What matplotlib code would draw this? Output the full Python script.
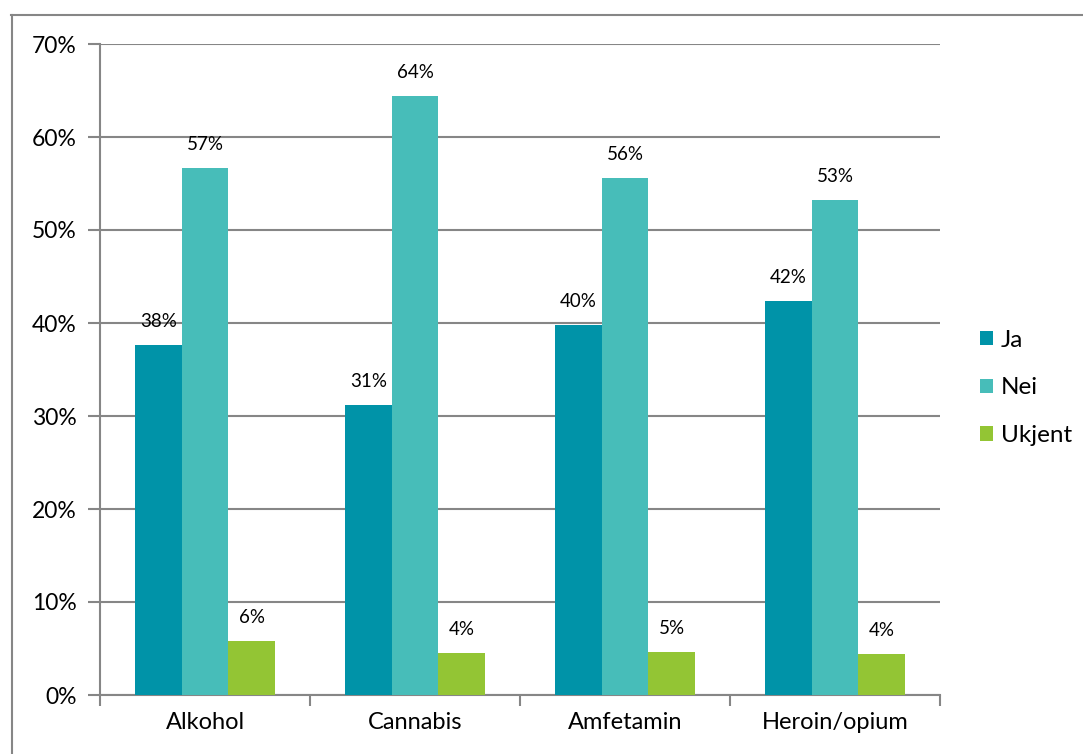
import matplotlib
matplotlib.use("Agg")
import matplotlib.pyplot as plt
from matplotlib.lines import Line2D
from matplotlib.patches import Patch
import numpy as np

plt.rcParams['font.family'] = ['Lato', 'DejaVu Sans']

categories = ["Alkohol", "Cannabis", "Amfetamin", "Heroin/opium"]
series_names = ["Ja", "Nei", "Ukjent"]
ja = [37.6, 31.2, 39.8, 42.4]
nei = [56.7, 64.4, 55.6, 53.2]
ukjent = [5.8, 4.5, 4.6, 4.4]
colors = ["#0093A8", "#47BDB9", "#93C534"]
yticks = [0, 10, 20, 30, 40, 50, 60, 70]

W, H = 1083, 754
fig = plt.figure(figsize=(W / 100, H / 100), dpi=100)
ax = fig.add_axes([100 / W, 1 - 695 / H, 840 / W, 651 / H])

grid_col = "#868686"
series = [ja, nei, ukjent]
n = len(series)
bw = 1 / (n + 1.5)
x = np.arange(len(categories))
for i, (vals, name, col) in enumerate(zip(series, series_names, colors)):
    pos = x + (i - (n - 1) / 2) * bw
    ax.bar(pos, vals, width=bw, color=col, label=name, zorder=3)
    for p, v in zip(pos, vals):
        ax.text(p, v + 1.6, f"{v:.0f}%", ha="center", va="bottom",
                fontsize=13.5, color="#000000", zorder=4)

ax.set_xlim(-0.5, len(categories) - 0.5)
ax.set_ylim(0, 70)
ax.set_yticks(yticks)
ax.set_yticklabels([f"{t}%" for t in yticks], fontsize=16.5)
ax.yaxis.grid(True, color=grid_col, linewidth=1.5, zorder=0)
ax.set_axisbelow(True)

ax.set_xticks(x)
ax.set_xticklabels(categories, fontsize=17)
ax.tick_params(axis="x", length=0, pad=12)
ax.set_xticks(np.arange(len(categories) + 1) - 0.5, minor=True)
ax.tick_params(axis="x", which="minor", length=8, width=1.5, color=grid_col, direction="out")
ax.tick_params(axis="y", length=9, width=1.5, color=grid_col, pad=8)

for s in ["top", "right"]:
    ax.spines[s].set_visible(False)
for s in ["left", "bottom"]:
    ax.spines[s].set_color(grid_col)
    ax.spines[s].set_linewidth(1.5)

handles = [Patch(facecolor=c, label=nm) for c, nm in zip(colors, series_names)]
fig.legend(handles=handles, loc="center left", bbox_to_anchor=(958 / W, 1 - 388 / H),
           frameon=False, fontsize=17.5, handlelength=0.55, handleheight=0.55,
           handletextpad=0.3, labelspacing=1.1)

# outer frame (top and left edges)
fig.add_artist(Line2D([11 / W, 1], [1 - 14.5 / H, 1 - 14.5 / H], color=grid_col, linewidth=1.5,
                      transform=fig.transFigure))
fig.add_artist(Line2D([11.5 / W, 11.5 / W], [0, 1 - 14.5 / H], color=grid_col, linewidth=1.5,
                      transform=fig.transFigure))

fig.savefig("out.png", dpi=100, facecolor="white")
